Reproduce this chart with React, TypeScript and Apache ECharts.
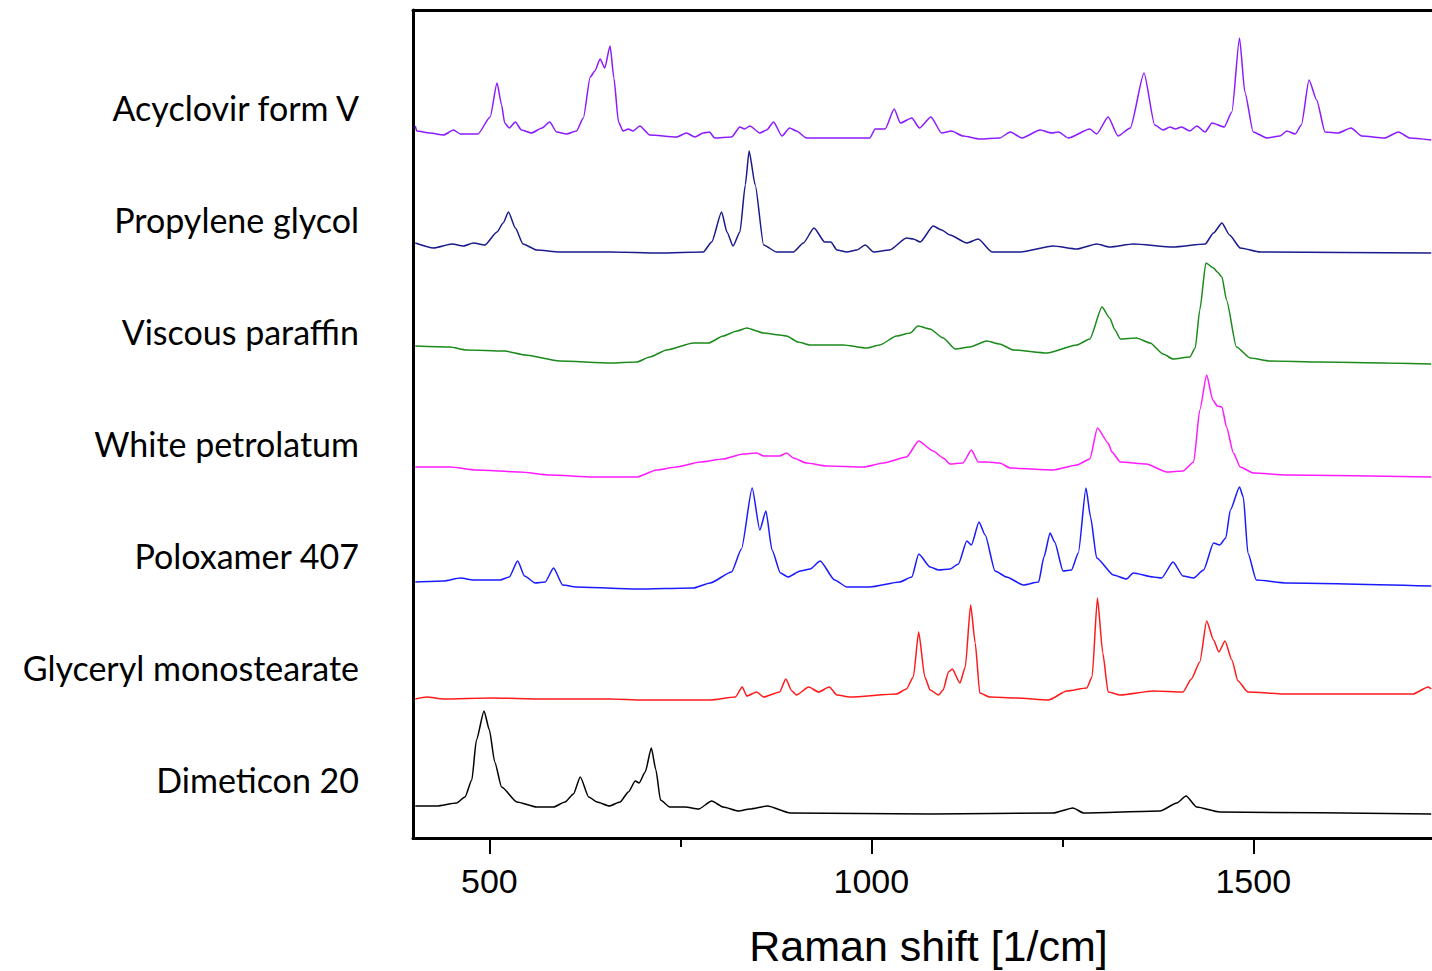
import React, { useEffect, useRef } from "react";
import * as echarts from "echarts";

// Raman shift [1/cm] vs. offset intensity (a.u.)
const acyclovir: [number, number][] = [
  [403, 712], [405, 707], [422, 705], [440, 703], [453, 708], [462, 704], [485, 704], [501, 721], [510, 755], [516, 733],
  [520, 715], [526, 710], [534, 716], [542, 708], [555, 705], [569, 710], [579, 716], [588, 706], [601, 704], [614, 707],
  [623, 720], [632, 761], [638, 767], [645, 779], [651, 770], [658, 792], [663, 760], [669, 716], [675, 707], [682, 709],
  [688, 707], [697, 712], [710, 703], [745, 701], [758, 705], [769, 701], [780, 705], [788, 706], [795, 700], [817, 701],
  [828, 711], [834, 709], [841, 712], [854, 705], [863, 708], [872, 716], [883, 702], [893, 710], [902, 707], [915, 700],
  [998, 700], [1005, 709], [1018, 709], [1030, 729], [1038, 715], [1053, 720], [1063, 710], [1078, 721], [1092, 705], [1105, 707],
  [1120, 702], [1142, 699], [1168, 700], [1182, 706], [1197, 700], [1221, 708], [1236, 705], [1245, 706], [1258, 700], [1286, 709],
  [1295, 704], [1310, 721], [1323, 702], [1339, 710], [1357, 765], [1371, 713], [1382, 708], [1391, 711], [1398, 709], [1406, 711],
  [1417, 707], [1426, 712], [1437, 706], [1446, 715], [1462, 711], [1472, 726], [1482, 800], [1489, 746], [1500, 706], [1518, 700],
  [1535, 702], [1544, 707], [1555, 704], [1563, 713], [1573, 758], [1583, 738], [1594, 706], [1611, 705], [1628, 710], [1642, 702],
  [1672, 700], [1690, 706], [1705, 700], [1733, 698],
];

const propyleneGlycol: [number, number][] = [
  [403, 595], [427, 590], [451, 594], [466, 592], [479, 595], [494, 593], [510, 606], [518, 615], [525, 626], [534, 610],
  [544, 594], [562, 588], [592, 586], [658, 586], [723, 585], [780, 586], [791, 596], [804, 626], [811, 606], [819, 592],
  [828, 606], [835, 653], [840, 687], [848, 653], [859, 593], [876, 586], [898, 586], [911, 595], [925, 610], [939, 596],
  [947, 596], [955, 588], [968, 586], [981, 588], [992, 593], [1003, 586], [1024, 588], [1046, 600], [1055, 599], [1064, 596],
  [1081, 612], [1092, 608], [1103, 603], [1125, 595], [1140, 599], [1158, 586], [1195, 586], [1238, 592], [1269, 589], [1295, 594],
  [1312, 591], [1343, 594], [1395, 591], [1437, 594], [1448, 605], [1459, 615], [1469, 603], [1483, 590], [1509, 586], [1733, 585],
];

const viscousParaffin: [number, number][] = [
  [403, 492], [448, 491], [470, 488], [520, 487], [547, 483], [592, 477], [658, 475], [693, 476], [710, 481], [732, 488],
  [767, 495], [787, 495], [806, 502], [824, 507], [837, 510], [859, 505], [880, 503], [889, 502], [904, 496], [920, 493],
  [963, 493], [994, 490], [1011, 493], [1033, 502], [1051, 505], [1061, 512], [1077, 509], [1094, 500], [1110, 489], [1129, 491],
  [1151, 497], [1168, 494], [1186, 488], [1230, 485], [1269, 493], [1286, 499], [1302, 531], [1312, 520], [1319, 508], [1326, 499],
  [1347, 500], [1365, 495], [1382, 484], [1395, 479], [1417, 481], [1424, 490], [1430, 528], [1438, 575], [1448, 570], [1453, 566],
  [1459, 561], [1465, 538], [1478, 491], [1496, 480], [1522, 477], [1587, 476], [1733, 474],
];

const whitePetrolatum: [number, number][] = [
  [403, 371], [448, 371], [483, 368], [540, 366], [579, 363], [636, 361], [693, 361], [719, 368], [745, 371], [776, 376],
  [806, 379], [832, 384], [850, 385], [859, 382], [880, 382], [889, 385], [898, 380], [915, 375], [942, 372], [990, 371],
  [1016, 375], [1046, 381], [1062, 397], [1081, 387], [1094, 380], [1103, 374], [1120, 375], [1131, 388], [1140, 376], [1151, 376],
  [1168, 375], [1182, 370], [1238, 368], [1269, 373], [1286, 379], [1296, 410], [1310, 395], [1315, 386], [1326, 376], [1360, 374],
  [1387, 366], [1408, 367], [1422, 376], [1430, 428], [1439, 463], [1447, 438], [1453, 432], [1459, 431], [1465, 411], [1474, 385],
  [1483, 371], [1500, 365], [1544, 363], [1733, 361],
];

const poloxamer407: [number, number][] = [
  [403, 256], [440, 257], [462, 260], [479, 258], [514, 258], [526, 261], [537, 277], [546, 262], [560, 255], [573, 256],
  [584, 270], [596, 253], [614, 251], [693, 249], [767, 250], [789, 255], [817, 266], [830, 289], [844, 350], [854, 308],
  [862, 327], [870, 288], [881, 265], [891, 261], [907, 267], [920, 269], [933, 277], [952, 258], [968, 251], [998, 251],
  [1037, 256], [1053, 261], [1062, 284], [1077, 271], [1088, 268], [1103, 269], [1114, 274], [1125, 297], [1131, 293], [1141, 316],
  [1149, 303], [1162, 267], [1177, 261], [1199, 253], [1219, 256], [1226, 281], [1234, 305], [1240, 296], [1251, 267], [1262, 268],
  [1271, 285], [1281, 350], [1287, 321], [1295, 280], [1317, 263], [1334, 259], [1343, 265], [1369, 261], [1380, 260], [1395, 276],
  [1408, 262], [1422, 260], [1435, 268], [1448, 295], [1456, 293], [1464, 300], [1470, 328], [1482, 351], [1487, 341], [1493, 285],
  [1504, 258], [1544, 255], [1733, 252],
];

const glycerylMonostearate: [number, number][] = [
  [403, 139], [418, 141], [440, 139], [501, 140], [571, 139], [658, 139], [701, 138], [789, 138], [822, 141], [831, 151],
  [837, 142], [850, 146], [859, 141], [880, 146], [888, 159], [896, 147], [902, 143], [918, 151], [931, 146], [945, 151],
  [955, 143], [972, 141], [1033, 144], [1046, 149], [1055, 161], [1062, 206], [1070, 161], [1077, 148], [1088, 143], [1094, 148],
  [1101, 166], [1106, 169], [1116, 155], [1123, 171], [1130, 233], [1136, 195], [1142, 145], [1155, 141], [1190, 140], [1232, 138],
  [1256, 147], [1282, 150], [1289, 161], [1296, 240], [1303, 185], [1310, 146], [1326, 143], [1369, 147], [1408, 146], [1419, 159],
  [1430, 176], [1439, 217], [1448, 198], [1455, 186], [1463, 197], [1472, 178], [1480, 157], [1493, 146], [1544, 144], [1709, 144],
  [1729, 151], [1733, 149],
];

const dimeticon20: [number, number][] = [
  [403, 32], [431, 32], [457, 35], [468, 41], [477, 58], [483, 98], [493, 127], [500, 108], [507, 76], [516, 51],
  [536, 36], [562, 31], [584, 31], [599, 36], [610, 44], [619, 61], [630, 41], [641, 36], [657, 32], [671, 36],
  [682, 46], [691, 57], [696, 55], [704, 66], [712, 90], [718, 68], [724, 38], [736, 31], [756, 31], [774, 29],
  [791, 37], [806, 31], [826, 27], [841, 29], [864, 32], [894, 25], [1077, 24], [1238, 25], [1264, 30], [1278, 25],
  [1378, 27], [1400, 35], [1412, 42], [1426, 31], [1456, 26], [1733, 24],
];

const sampleNames = [
  "Acyclovir form V",
  "Propylene glycol",
  "Viscous paraffin",
  "White petrolatum",
  "Poloxamer 407",
  "Glyceryl monostearate",
  "Dimeticon 20",
];
const sampleLabelLevels = [731, 619, 507, 395, 283, 171, 59];
const sampleColors = ["#8b1aff", "#1a1a8c", "#1a8a1a", "#ff1aff", "#1a1aff", "#ff1a1a", "#000000"];
const spectra = [
  acyclovir,
  propyleneGlycol,
  viscousParaffin,
  whitePetrolatum,
  poloxamer407,
  glycerylMonostearate,
  dimeticon20,
];

const majorTicks = [500, 1000, 1500];
const minorTicks = [750, 1250];
const xMin = 400;
const xMax = 1734;

export default function App() {
  const ref = useRef<HTMLDivElement>(null);

  useEffect(() => {
    if (!ref.current) return;
    const chart = echarts.init(ref.current, null, { renderer: "svg" });
    const axisLine = { show: true, lineStyle: { color: "#000", width: 3 } };
    chart.setOption({
      animation: false,
      backgroundColor: "#fff",
      grid: {
        left: 413,
        right: 0,
        top: 10,
        bottom: 133,
        containLabel: false,
        outerBoundsMode: "none",
      },
      xAxis: [
        {
          type: "value",
          position: "bottom",
          min: xMin,
          max: xMax,
          axisLine,
          splitLine: { show: false },
          axisTick: {
            show: true,
            customValues: majorTicks,
            length: 16,
            inside: false,
            lineStyle: { color: "#000", width: 2 },
          },
          axisLabel: {
            customValues: majorTicks,
            margin: 26,
            fontFamily: "Liberation Sans",
            fontSize: 34,
            color: "#000",
            formatter: (v: number) => String(v),
          },
          name: "Raman shift [1/cm]",
          nameLocation: "middle",
          nameGap: 86,
          nameTextStyle: {
            fontFamily: "Liberation Sans",
            fontSize: 43,
            color: "#000",
            padding: [0, 0, 0, 12],
          },
        },
        {
          type: "value",
          position: "bottom",
          min: xMin,
          max: xMax,
          axisLine: { show: false },
          splitLine: { show: false },
          axisTick: {
            show: true,
            customValues: minorTicks,
            length: 9,
            lineStyle: { color: "#000", width: 2 },
          },
          axisLabel: { show: false },
        },
        {
          type: "value",
          position: "top",
          min: xMin,
          max: xMax,
          axisLine,
          splitLine: { show: false },
          axisTick: { show: false },
          axisLabel: { show: false },
        },
      ],
      yAxis: {
        type: "value",
        min: 0,
        max: 828,
        axisLine,
        splitLine: { show: false },
        axisTick: { show: false },
        axisLabel: {
          customValues: sampleLabelLevels,
          margin: 54,
          fontFamily: "Lato",
          fontSize: 34,
          color: "#000",
          formatter: (v: number) => sampleNames[sampleLabelLevels.indexOf(v)] ?? "",
        },
      },
      series: spectra.map((data, i) => ({
        type: "line",
        name: sampleNames[i],
        data,
        xAxisIndex: 0,
        yAxisIndex: 0,
        showSymbol: false,
        smooth: 0.2,
        smoothMonotone: "x",
        lineStyle: { color: sampleColors[i], width: 1.5 },
        itemStyle: { color: sampleColors[i] },
      })),
    });
    return () => chart.dispose();
  }, []);

  return (
    <div
      ref={ref}
      style={{ position: "absolute", left: 0, top: 0, width: 1432, height: 971, background: "#fff" }}
    />
  );
}
